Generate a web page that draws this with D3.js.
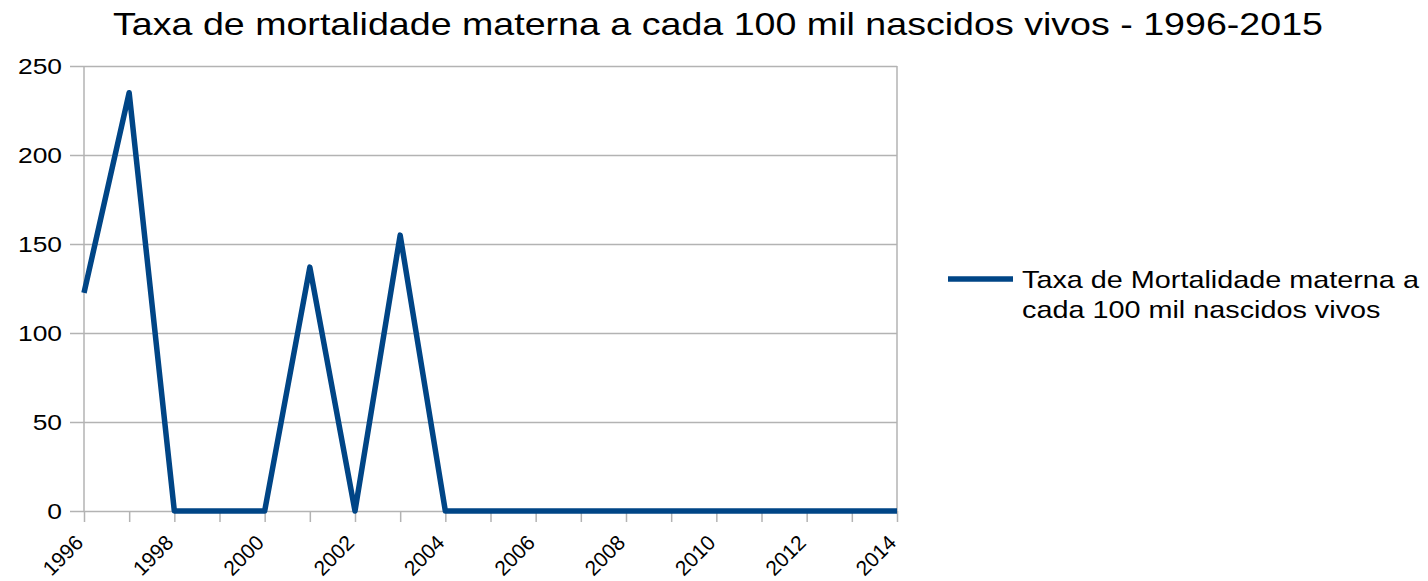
<!DOCTYPE html>
<html>
<head>
<meta charset="utf-8">
<script src="https://cdn.jsdelivr.net/npm/d3@7"></script>
<style>
  body { margin: 0; background: #fff; }
  text { font-family: "Liberation Sans", Arial, sans-serif; fill: #000; }
</style>
</head>
<body>
<div id="chart"></div>
<script>
// Data
var years = [1996, 1997, 1998, 1999, 2000, 2001, 2002, 2003, 2004, 2005,
    2006, 2007, 2008, 2009, 2010, 2011, 2012, 2013, 2014];
var taxa = [122.5, 235, 0, 0, 0, 137, 0, 155, 0, 0,
    0, 0, 0, 0, 0, 0, 0, 0, 0];
var yTicks = [0, 50, 100, 150, 200, 250];
var xLabelYears = [1996, 1998, 2000, 2002, 2004, 2006, 2008, 2010, 2012, 2014];
var seriesName = ["Taxa de Mortalidade materna a", "cada 100 mil nascidos vivos"];
var title = "Taxa de mortalidade materna a cada 100 mil nascidos vivos - 1996-2015";

var svgWidth = 1428;
var svgHeight = 581;
// the original picture is a bit wider than tall, text looks stretched
var stretch = 1.2;

var margin = { top: 66, right: 531, bottom: 70, left: 84 };
var width = svgWidth - margin.left - margin.right;
var height = svgHeight - margin.top - margin.bottom;

var svg = d3.select("#chart")
    .append("svg")
    .attr("width", svgWidth)
    .attr("height", svgHeight);

var chartGroup = svg.append("g")
    .attr("transform", `translate(${margin.left}, ${margin.top})`);

var xScale = d3.scaleLinear()
    .domain([1996, 2014])
    .range([0, width]);

var yScale = d3.scaleLinear()
    .domain([0, 250])
    .range([height, 0]);

// horizontal gridlines with tick stubs
var leftAxis = d3.axisLeft(yScale)
    .tickValues(yTicks)
    .tickSize(-width - 14);

var yAxis = chartGroup.append("g")
    .attr("transform", "translate(-14, 0)")
    .call(leftAxis);
yAxis.select(".domain").remove();
yAxis.selectAll("line").attr("stroke", "#b3b3b3").attr("stroke-width", 1.5);
yAxis.selectAll("text")
    .attr("font-size", "22px")
    .attr("x", 0)
    .attr("dy", "0.34em")
    .attr("transform", `translate(-8, 0) scale(${stretch}, 1)`);

// vertical border lines
chartGroup.append("line")
    .attr("x1", 0).attr("x2", 0)
    .attr("y1", 0).attr("y2", height)
    .attr("stroke", "#b3b3b3").attr("stroke-width", 1.5);
chartGroup.append("line")
    .attr("x1", width).attr("x2", width)
    .attr("y1", 0).attr("y2", height)
    .attr("stroke", "#b3b3b3").attr("stroke-width", 1.5);

// x axis ticks at every year
var bottomAxis = d3.axisBottom(xScale)
    .tickValues(years)
    .tickSize(11)
    .tickFormat(d => xLabelYears.indexOf(d) >= 0 ? d : "");

var xAxis = chartGroup.append("g")
    .attr("transform", `translate(0, ${height})`)
    .call(bottomAxis);
xAxis.select(".domain").remove();
xAxis.selectAll("line").attr("stroke", "#b3b3b3").attr("stroke-width", 1.5);
xAxis.selectAll("text")
    .attr("font-size", "21px")
    .attr("text-anchor", "end")
    .attr("dy", null)
    .attr("y", 0)
    .attr("transform", "translate(0, 33) rotate(-45)");

// the series line
var line = d3.line()
    .x((d, i) => xScale(years[i]))
    .y(d => yScale(d));

chartGroup.append("path")
    .datum(taxa)
    .attr("d", line)
    .attr("fill", "none")
    .attr("stroke", "#004586")
    .attr("stroke-width", 5.5)
    .attr("stroke-linejoin", "round");

// title
svg.append("text")
    .attr("transform", "translate(718, 35) scale(1.175, 1)")
    .attr("text-anchor", "middle")
    .attr("font-size", "32px")
    .text(title);

// legend
var legend = svg.append("g")
    .attr("transform", "translate(948, 279)");
legend.append("line")
    .attr("x1", 0).attr("x2", 65)
    .attr("y1", 0).attr("y2", 0)
    .attr("stroke", "#004586")
    .attr("stroke-width", 5.5);
legend.selectAll("text.leg")
    .data(seriesName)
    .enter()
    .append("text")
    .attr("class", "leg")
    .attr("transform", (d, i) => `translate(74, ${9 + i * 30}) scale(${stretch}, 1)`)
    .attr("font-size", "24px")
    .text(d => d);
</script>
</body>
</html>
